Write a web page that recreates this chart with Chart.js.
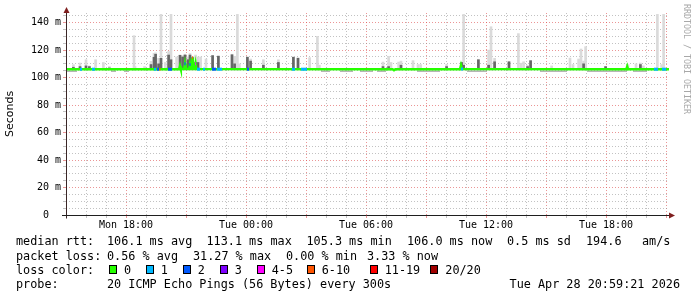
<!DOCTYPE html>
<html>
<head>
<meta charset="utf-8">
<script src="https://cdn.jsdelivr.net/npm/chart.js@4.4.1/dist/chart.umd.min.js"></script>
<style>
  html, body { margin: 0; padding: 0; background: #fff; }
  #wrap { position: relative; width: 697px; height: 297px; overflow: hidden; font-family: "DejaVu Sans Mono", monospace; }
  #chart { position: absolute; left: 0; top: 0; }
  .t { position: absolute; white-space: pre; font-size: 11.8px; line-height: 14px; color: #000; }
  .box { position: absolute; width: 6px; height: 7px; border: 1px solid #000; }
  #mark { position: absolute; left: 682px; top: 4px; writing-mode: vertical-rl; font-size: 8.3px; line-height: 9px; color: #a8a8a8; white-space: pre; }
</style>
</head>
<body>
<div id="wrap">
  <canvas id="chart" width="697" height="297"></canvas>
  <div id="mark">RRDTOOL / TOBI OETIKER</div>

  <div class="t" style="left:16px;top:234px">median rtt:</div>
  <div class="t" style="left:107px;top:234px">106.1 ms avg</div>
  <div class="t" style="left:206.5px;top:234px">113.1 ms max</div>
  <div class="t" style="left:306.5px;top:234px">105.3 ms min</div>
  <div class="t" style="left:407px;top:234px">106.0 ms now</div>
  <div class="t" style="left:507px;top:234px">0.5 ms sd</div>
  <div class="t" style="left:586px;top:234px">194.6</div>
  <div class="t" style="left:642px;top:234px">am/s</div>

  <div class="t" style="left:16px;top:248.5px">packet loss:</div>
  <div class="t" style="left:107px;top:248.5px">0.56 % avg</div>
  <div class="t" style="left:193px;top:248.5px">31.27 % max</div>
  <div class="t" style="left:286px;top:248.5px">0.00 % min</div>
  <div class="t" style="left:367px;top:248.5px">3.33 % now</div>

  <div class="t" style="left:16px;top:262.5px">loss color:</div>
  <div id="lossLegend"></div>

  <div class="t" style="left:16px;top:276.5px">probe:</div>
  <div class="t" style="left:107px;top:276.5px">20 ICMP Echo Pings (56 Bytes) every 300s</div>
  <div class="t" style="right:17px;top:276.5px">Tue Apr 28 20:59:21 2026</div>
</div>
<script>
// hours are counted from Mon 15:00 (left edge of the graph)
const tickHours = [3, 9, 15, 21, 27];
const tickLabels = ['Mon 18:00', 'Tue 00:00', 'Tue 06:00', 'Tue 12:00', 'Tue 18:00'];

const lossLabels = ['0', '1', '2', '3', '4-5', '6-10', '11-19', '20/20'];
const lossColors = ['#26ff00', '#00b8ff', '#0059ff', '#7e00ff', '#ff00ff', '#ff5500', '#ff0000', '#a10000'];

// smoke columns: time, top of the dark core (ms, null = none), top of the light smoke (ms)
const smokeHours = [0.37, 0.70, 1.00, 1.17, 1.48, 1.87, 2.17, 3.40, 3.45, 3.93,
  4.25, 4.40, 4.48, 4.63, 4.75, 4.97, 5.13, 5.25, 5.53, 5.70,
  5.83, 5.95, 6.10, 6.20, 6.33, 6.48, 6.60, 6.73, 7.00, 7.33,
  7.62, 8.30, 8.43, 8.57, 8.67, 9.07, 9.23, 9.87, 10.62, 11.37,
  11.60, 12.18, 12.57, 12.67, 15.85, 16.13, 16.25, 16.63, 16.75, 17.35,
  17.60, 17.73, 19.03, 19.78, 19.88, 20.62, 21.13, 21.25, 21.43, 22.15,
  22.62, 22.75, 22.88, 23.08, 23.23, 24.28, 25.20, 25.35, 25.63, 25.75,
  25.88, 25.98, 26.98, 28.10, 28.50, 28.72, 28.87, 29.57, 29.78, 29.88];
const smokeCore = [107.5, 108, 108.5, 108, null, null, 107, null, null, null,
  109.5, 114.8, 117, 110, 114, null, 116.4, 113, null, 116.2,
  115, 116.4, 113, 116.4, 114.5, 111, 111, null, null, 116,
  115.5, 116.6, 110, null, null, 114.8, 112, 109, 111, 114.8,
  114, null, null, null, 108, 108, null, null, 109, null,
  null, null, 108, 111, 109, 113, 109, null, 111.5, 111.5,
  null, null, null, 108, 112.3, null, null, null, null, null,
  110, null, 108, null, null, 109.5, null, null, null, null];
const smokeMax = [109.4, 110.6, 113, 108.5, 113, 111, 108, 130.5, 108, 108,
  111.8, 117.6, 118, 114, 146, 111, 119, 146, 115, 116.5,
  116, 117, 115, 117.5, 115.5, 116.4, 115, 115, 113.5, 116,
  116, 117, 115.5, 146, 110, 115, 113.5, 113, 113, 115,
  114.5, 114.5, 130, 109, 111.3, 115.5, 111, 111.3, 112, 112.3,
  109.5, 109.5, 109.5, 111, 146, 113, 120, 137, 114, 111.5,
  132, 110.5, 111.5, 109, 112.3, 108.5, 114.2, 109.5, 113.5, 120.8,
  112, 122.5, 108, 109.5, 110, 110.6, 108.5, 146, 109.5, 146];
const smokeFloor = 105.4;

// darker smoke just under the median line
const bandFrom = [0, 2.25, 2.9, 12.75, 13.7, 14.7, 15.55, 17.55, 20.05, 23.7, 26.05, 28.35];
const bandTo = [0.55, 2.5, 3.15, 13.2, 14.35, 15.35, 16.0, 18.7, 21.05, 25.05, 28.05, 29.05];
const bandValue = 104.7;

// median rtt
const medianHours = [0, 5.66, 5.70, 5.74, 5.91, 5.95, 5.99, 6.16, 6.20, 6.24, 6.29, 6.33, 6.37,
  6.44, 6.48, 6.52, 16.33, 16.40, 16.47, 19.70, 19.75, 19.80, 28.02, 28.06, 28.10, 30.15];
const medianValues = [106.0, 106.1, 108.4, 106.2, 106.2, 110.0, 106.2, 106.2, 109.5, 106.2, 106.2, 114.5, 106.2,
  106.2, 110.0, 106.2, 106.1, 105.4, 106.0, 106.1, 109.0, 106.2, 106.1, 108.0, 106.1, 106.0];

// stretches of the median coloured by packet loss (index into lossColors)
const lossFrom = [0.70, 1.30, 4.40, 4.55, 4.67, 5.10, 5.92, 6.17, 6.31, 6.46, 6.55, 6.85, 7.30, 7.55, 9.05, 11.30, 11.75, 19.75, 29.40, 29.80];
const lossTo = [0.80, 1.45, 4.50, 4.65, 4.72, 5.30, 5.98, 6.23, 6.35, 6.50, 6.70, 6.95, 7.50, 7.80, 9.15, 11.45, 12.05, 19.85, 29.60, 30.00];
const lossLevel = [1, 1, 1, 2, 5, 2, 2, 2, 5, 4, 1, 1, 2, 1, 2, 1, 1, 1, 1, 1];
const lossAt = [106.1, 106.1, 106.1, 106.1, 106.1, 106.1, 110.0, 109.5, 114.5, 110.0, 106.1, 106.1, 106.1, 106.1, 106.1, 106.1, 106.1, 106.3, 106.1, 106.1];

const X_MAX = 30.15;
const Y_MAX = 147;
const MINOR = 'rgba(143,143,143,0.55)';
const MAJOR = 'rgba(222,79,79,0.6)';
const NONE = 'rgba(0,0,0,0)';

// legend boxes for loss colours
const boxLeft = [109, 145.7, 182.7, 219.7, 256.7, 306.7, 369.7, 430.3];
const legend = document.getElementById('lossLegend');
lossLabels.forEach((lab, i) => {
  const b = document.createElement('div');
  b.className = 'box';
  b.style.left = boxLeft[i] + 'px';
  b.style.top = '264.5px';
  b.style.background = lossColors[i];
  legend.appendChild(b);
  const t = document.createElement('div');
  t.className = 't';
  t.style.left = (boxLeft[i] + 15) + 'px';
  t.style.top = '262.5px';
  t.textContent = lab;
  legend.appendChild(t);
});

function segments(from, to, value) {
  const out = [];
  from.forEach((f, i) => {
    const v = Array.isArray(value) ? value[i] : value;
    out.push({ x: f, y: v }, { x: to[i], y: v }, { x: to[i], y: null });
  });
  return out;
}

const axisArrows = {
  id: 'axisArrows',
  afterDraw(chart) {
    const { ctx, chartArea: a } = chart;
    const x0 = a.left + 0.5;
    const y0 = a.bottom + 0.5;
    ctx.save();
    ctx.lineWidth = 1;
    ctx.strokeStyle = '#3a2626';
    ctx.beginPath();
    ctx.moveTo(x0, y0 + 3);
    ctx.lineTo(x0, a.top - 3);
    ctx.stroke();
    ctx.strokeStyle = '#1f1f1f';
    ctx.beginPath();
    ctx.moveTo(a.left - 4, y0);
    ctx.lineTo(a.right + 2, y0);
    ctx.stroke();
    ctx.fillStyle = '#7f1f1f';
    ctx.beginPath();
    ctx.moveTo(x0 - 3, a.top);
    ctx.lineTo(x0 + 3, a.top);
    ctx.lineTo(x0, a.top - 6);
    ctx.closePath();
    ctx.fill();
    ctx.beginPath();
    ctx.moveTo(a.right, y0 - 3);
    ctx.lineTo(a.right, y0 + 3);
    ctx.lineTo(a.right + 6, y0);
    ctx.closePath();
    ctx.fill();
    ctx.restore();
  },
};

const smokeLight = smokeHours.map((h, i) => ({ x: h, y: [smokeFloor, smokeMax[i]] }));
const smokeDark = smokeHours
  .map((h, i) => (smokeCore[i] == null ? null : { x: h, y: [smokeFloor + 0.4, smokeCore[i]] }))
  .filter(Boolean);

new Chart(document.getElementById('chart'), {
  type: 'bar',
  data: {
    datasets: [
      {
        type: 'line', order: 0,
        data: segments(lossFrom, lossTo, lossAt),
        borderWidth: 3, borderCapStyle: 'butt', pointRadius: 0, spanGaps: false,
        segment: { borderColor: (c) => lossColors[lossLevel[Math.floor(c.p0DataIndex / 3)]] },
      },
      {
        type: 'line', order: 1,
        data: medianHours.map((h, i) => ({ x: h, y: medianValues[i] })),
        borderColor: lossColors[0], borderWidth: 2.5, pointRadius: 0, tension: 0,
      },
      {
        type: 'line', order: 2,
        data: segments(bandFrom, bandTo, bandValue),
        borderColor: '#9e9e9e', borderWidth: 1.2, pointRadius: 0, spanGaps: false,
      },
      { order: 3, data: smokeDark, backgroundColor: '#666666', barThickness: 2, grouped: false, borderWidth: 0 },
      { order: 4, data: smokeLight, backgroundColor: '#dadada', barThickness: 2, grouped: false, borderWidth: 0 },
    ],
  },
  options: {
    responsive: false,
    animation: false,
    events: [],
    layout: { padding: { left: 0, top: 13, right: 28, bottom: 0 } },
    plugins: { legend: { display: false }, tooltip: { enabled: false } },
    scales: {
      x: {
        type: 'linear', min: 0, max: X_MAX, offset: false,
        afterFit: (s) => { s.height = 82; },
        border: { display: false, dash: [1, 2] },
        grid: {
          offset: false, tickLength: 3,
          color: (c) => (c.tick.value === 0 ? NONE : c.tick.value % 3 === 0 ? MAJOR : MINOR),
        },
        ticks: {
          stepSize: 1, autoSkip: false, maxRotation: 0, includeBounds: false, padding: 1,
          color: '#000', font: { family: 'DejaVu Sans Mono', size: 10 },
          callback: (v) => { const i = tickHours.indexOf(v); return i < 0 ? '' : tickLabels[i]; },
        },
      },
      y: {
        min: 0, max: Y_MAX,
        afterFit: (s) => { s.width = 66; },
        border: { display: false, dash: [1, 2] },
        grid: {
          tickLength: 3,
          color: (c) => (c.tick.value === 0 ? NONE : c.tick.value % 20 === 0 ? MAJOR : MINOR),
        },
        title: {
          display: true, text: 'Seconds', color: '#000',
          font: { family: 'DejaVu Sans', size: 11 }, padding: { top: 4, bottom: 0 },
        },
        ticks: {
          stepSize: 5, autoSkip: false, includeBounds: false, padding: 2,
          color: '#000', font: { family: 'DejaVu Sans Mono', size: 10 },
          callback: (v) => (v % 20 !== 0 ? '' : v === 0 ? '0  ' : v + ' m'),
        },
      },
    },
  },
  plugins: [axisArrows],
});
</script>
</body>
</html>
